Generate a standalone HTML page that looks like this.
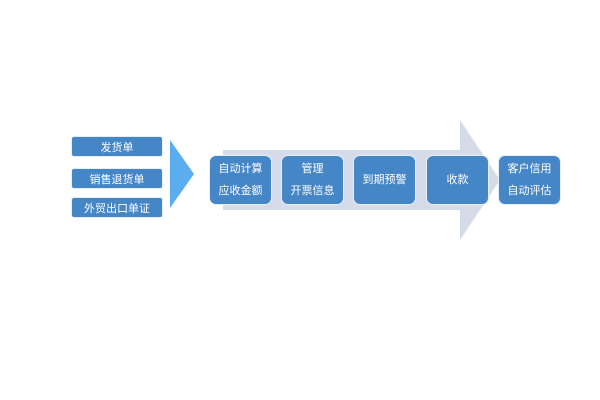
<!DOCTYPE html>
<html><head><meta charset="utf-8"><style>
body{margin:0;width:600px;height:400px;background:#fff;position:relative;overflow:hidden;font-family:"Liberation Sans","Noto Sans CJK SC",sans-serif;}
.b{position:absolute;background:#4586c7;color:#fff;font-size:11px;display:flex;flex-direction:column;align-items:center;justify-content:center;box-sizing:border-box;border:1px solid #e6eef7;}
.s{border-radius:3px;left:71px;width:92px;height:21px;}
.m{border-radius:7px;top:155px;height:50px;width:63px;line-height:22px;}
</style></head><body>
<svg width="600" height="400" style="position:absolute;left:0;top:0">
<polygon points="223,150 460,150 460,120 500,180 460,240 460,210 223,210" fill="#d5dbe8"/>
<polygon points="170,140 194,174 170,208" fill="#5aaef0"/>
</svg>
<div class="b s" style="top:136px">发货单</div>
<div class="b s" style="top:168px">销售退货单</div>
<div class="b s" style="top:197px">外贸出口单证</div>
<div class="b m" style="left:209px">自动计算<span>应收金额</span></div>
<div class="b m" style="left:281px">管理<span>开票信息</span></div>
<div class="b m" style="left:353px">到期预警</div>
<div class="b m" style="left:426px">收款</div>
<div class="b m" style="left:498px">客户信用<span>自动评估</span></div>
</body></html>
